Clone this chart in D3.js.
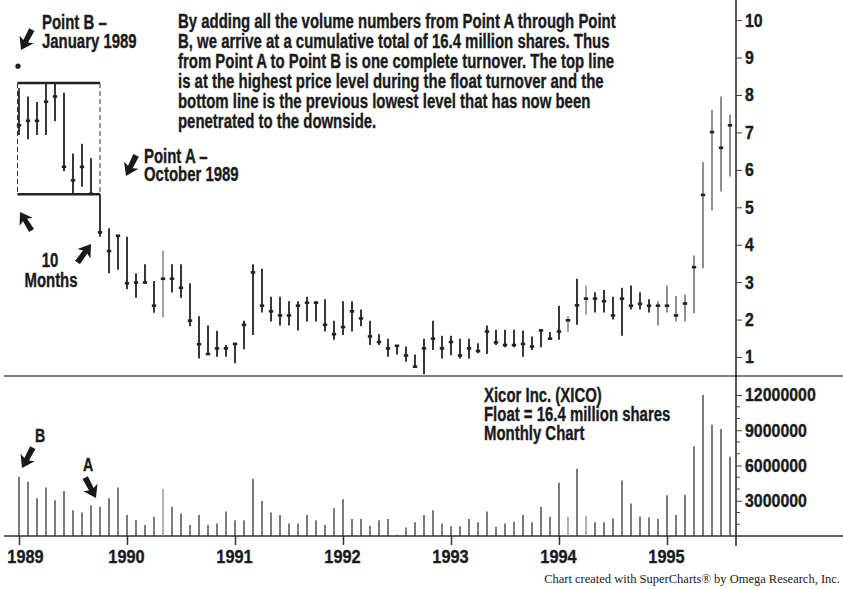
<!doctype html>
<html>
<head>
<style>
  body { margin: 0; background: #fff; }
  text { font-family: "Liberation Sans", Arial, sans-serif; font-weight: bold; fill: #1a1a1a; stroke: #1a1a1a; stroke-width: 0.35px; }
  .credit { font-family: "Liberation Serif", "DejaVu Serif", serif; font-weight: normal; stroke: none; }
</style>
<script src="https://d3js.org/d3.v7.min.js"></script>
</head>
<body>
<svg width="843" height="589"></svg>
<script>
// monthly bars Jan 1989 .. Aug 1995 (index 0 = Jan 1989)
var highs = [8.18,7.96,7.81,8.32,8.32,8.06,6.44,6.70,6.31,5.35,
  4.44,4.24,4.21,3.24,3.48,3.03,3.84,3.48,3.48,2.97,
  2.09,1.84,1.70,1.32,1.37,1.97,3.48,3.36,2.61,2.61,
  2.49,2.49,2.61,2.49,2.54,1.97,2.49,2.49,2.27,1.97,
  1.61,1.49,1.32,1.28,1.07,1.49,1.97,1.57,1.57,1.49,
  1.49,1.37,1.84,1.73,1.73,1.73,1.71,1.55,1.73,1.67,
  2.37,2.09,3.09,2.91,2.73,2.79,2.61,2.85,2.91,2.73,
  2.54,2.49,2.91,2.63,2.67,3.71,6.21,7.60,7.96,7.48];
var lows = [6.93,6.82,6.93,6.93,7.30,5.96,5.35,5.55,5.35,4.21,
  3.24,3.33,2.81,2.58,2.99,2.18,2.06,2.72,2.58,1.82,
  0.96,1.08,1.01,1.01,0.83,1.21,1.59,2.19,1.95,1.84,
  1.84,1.71,1.95,1.95,1.68,1.46,1.59,1.68,1.82,1.32,
  1.32,1.01,1.07,0.87,0.72,0.54,1.19,0.96,1.05,0.96,
  0.96,1.10,1.08,1.32,1.26,1.26,1.01,1.19,1.26,1.46,
  1.46,1.66,1.86,2.13,2.19,2.19,2.00,1.57,2.27,2.27,
  2.19,1.84,2.19,1.95,1.95,2.17,3.37,4.92,5.42,5.82];
var closes = [7.19,7.31,7.31,7.82,7.96,6.08,5.72,6.08,5.36,4.33,
  3.83,4.24,2.97,2.99,2.99,2.37,3.09,3.09,2.85,1.97,
  1.34,1.08,1.23,1.23,1.35,1.86,3.26,2.37,2.22,2.11,
  2.11,2.37,2.45,2.45,1.86,1.61,1.80,2.22,2.03,1.55,
  1.40,1.23,1.30,1.04,0.74,1.23,1.49,1.23,1.40,1.04,
  1.23,1.16,1.68,1.39,1.32,1.32,1.35,1.28,1.71,1.49,
  1.68,1.98,2.38,2.56,2.56,2.49,2.11,2.56,2.37,2.42,
  2.37,2.37,2.37,2.11,2.43,3.40,5.33,7.01,6.59,7.19];
// volume, millions of shares
var volumes = [5.05,4.62,3.21,4.12,3.04,3.83,2.20,2.00,2.62,2.48,
  3.21,4.12,1.78,1.35,0.93,1.63,4.00,2.48,1.92,0.93,
  1.78,0.93,1.07,2.09,1.35,1.35,4.88,2.98,2.00,1.78,
  1.07,1.07,1.78,1.35,0.93,2.37,3.13,1.44,1.44,0.87,
  1.35,1.44,0.10,0.73,1.16,1.78,2.20,1.07,0.82,0.82,
  1.44,1.16,2.09,0.79,1.07,1.21,1.78,1.16,2.48,1.63,
  4.54,1.63,5.72,1.72,1.16,1.16,1.50,4.73,2.76,1.63,
  1.58,1.44,3.47,1.78,3.52,7.63,12.0,9.47,9.10,6.74];
var grayBars = [16, 61, 63];
var yearLabels = ["1989","1990","1991","1992","1993","1994","1995"];
var priceTicks = [1,2,3,4,5,6,7,8,9,10];
var volumeTicks = [3000000, 6000000, 9000000, 12000000];
var boxMonths = [0, 9];      // Point B .. Point A
var markerPrice = 8.77;

var noteLines = [
  "By adding all the volume numbers from Point A through Point",
  "B, we arrive at a cumulative total of 16.4 million shares. Thus",
  "from Point A to Point B is one complete turnover. The top line",
  "is at the highest price level during the float turnover and the",
  "bottom line is the previous lowest level that has now been",
  "penetrated to the downside."
];
var infoLines = ["Xicor Inc. (XICO)", "Float = 16.4 million shares", "Monthly Chart"];

var svg = d3.select("svg");
var axisX = 736;
var ink = "#1a1a1a";

// squeeze the regular bold face so the first note line is as wide as in the print
var probe = svg.append("text").attr("font-size", 19.5).text(noteLines[0]);
var SQ = 438 / probe.node().getComputedTextLength();
probe.remove();
var NSQ = 0.86; // squeeze for axis numbers

var x = d3.scaleLinear().domain([0, 72]).range([19, 667]);
var yP = d3.scaleLinear().domain([1, 8]).range([357, 95]);
var yV = d3.scaleLinear().domain([0, 12000000]).range([536, 395]);

function label(px, py, str, size, anchor) {
  svg.append("g")
     .attr("transform", "translate(" + px + "," + py + ") scale(" + SQ + ",1)")
     .append("text")
     .attr("font-size", size)
     .attr("text-anchor", anchor || "start")
     .text(str);
}

// frame lines
svg.append("line").attr("x1", 4).attr("x2", 843).attr("y1", yP(0.49)).attr("y2", yP(0.49))
   .attr("stroke", "#555").attr("stroke-width", 1.5);
svg.append("line").attr("x1", 4).attr("x2", 843).attr("y1", yV(0)).attr("y2", yV(0))
   .attr("stroke", "#333").attr("stroke-width", 1.5);
svg.append("line").attr("x1", axisX).attr("x2", axisX).attr("y1", 0).attr("y2", 546)
   .attr("stroke", "#222").attr("stroke-width", 1.5);

function styleNumbers(g, size) {
  g.select(".domain").remove();
  g.selectAll("line").attr("stroke", "#444");
  g.selectAll("text").attr("font-size", size).attr("font-family", null).attr("fill", ink);
}

// price axis
var pAxis = svg.append("g").attr("transform", "translate(" + axisX + ",0)")
   .call(d3.axisRight(yP).tickValues(priceTicks).tickSize(6).tickPadding(3).tickFormat(d3.format("d")));
styleNumbers(pAxis, 18.5);
pAxis.selectAll("text").attr("transform", "scale(" + NSQ + ",1)").attr("x", 9 / NSQ);

// volume axis
var vAxis = svg.append("g").attr("transform", "translate(" + axisX + ",0)")
   .call(d3.axisRight(yV).tickValues(volumeTicks).tickSize(6).tickPadding(3).tickFormat(d3.format("d")));
styleNumbers(vAxis, 18.5);
vAxis.selectAll("text").attr("transform", "scale(" + NSQ + ",1)").attr("x", 9 / NSQ);
svg.append("g").selectAll("line")
   .data(d3.range(1000000, 12000001, 1000000).filter(function(d) { return d % 3000000; }))
   .enter().append("line")
   .attr("x1", axisX).attr("x2", axisX + 4)
   .attr("y1", function(d) { return yV(d); }).attr("y2", function(d) { return yV(d); })
   .attr("stroke", "#444");

// time axis
var tAxis = svg.append("g").attr("transform", "translate(0," + yV(0) + ")")
   .call(d3.axisBottom(x).tickValues(d3.range(0, 73, 12)).tickSize(9).tickPadding(5)
      .tickFormat(function(d, i) { return yearLabels[i]; }));
styleNumbers(tAxis, 19);
tAxis.selectAll("line").attr("stroke", "#333").attr("stroke-width", 1.5);
tAxis.selectAll("text")
   .attr("transform", "scale(" + NSQ + ",1)")
   .attr("x", function(d, i) { return (i === 0 ? 6 : -1) / NSQ; });

// price bars
var months = d3.range(highs.length);
function barColor(i) { return grayBars.indexOf(i) >= 0 ? "#999" : (i >= 71 ? "#444" : "#222"); }
svg.append("g").selectAll("line").data(months).enter().append("line")
   .attr("x1", function(i) { return x(i); }).attr("x2", function(i) { return x(i); })
   .attr("y1", function(i) { return yP(highs[i]); }).attr("y2", function(i) { return yP(lows[i]); })
   .attr("stroke", barColor)
   .attr("stroke-width", function(i) { return i >= 71 ? 1.2 : 1.8; });
svg.append("g").selectAll("line").data(months).enter().append("line")
   .attr("x1", function(i) { return x(i) - 2.2; }).attr("x2", function(i) { return x(i) + 2.2; })
   .attr("y1", function(i) { return yP(closes[i]); }).attr("y2", function(i) { return yP(closes[i]); })
   .attr("stroke", "#222").attr("stroke-width", 2.6);

// volume bars
svg.append("g").selectAll("line").data(months).enter().append("line")
   .attr("x1", function(i) { return x(i); }).attr("x2", function(i) { return x(i); })
   .attr("y1", yV(0)).attr("y2", function(i) { return yV(volumes[i] * 1e6); })
   .attr("stroke", function(i) { return grayBars.indexOf(i) >= 0 ? "#888" : "#333"; })
   .attr("stroke-width", 1.3);

// turnover box
var boxTop = d3.max(highs.slice(boxMonths[0], boxMonths[1]));
var boxBot = d3.min(lows.slice(boxMonths[0], boxMonths[1]));
var bx0 = x(boxMonths[0]) - 1.5, bx1 = x(boxMonths[1]);
[boxTop, boxBot].forEach(function(p) {
  svg.append("line").attr("x1", bx0).attr("x2", bx1).attr("y1", yP(p)).attr("y2", yP(p))
     .attr("stroke", "#222").attr("stroke-width", 2.4);
});
[bx0, bx1].forEach(function(bx) {
  svg.append("line").attr("x1", bx).attr("x2", bx).attr("y1", yP(boxTop)).attr("y2", yP(boxBot))
     .attr("stroke", "#333").attr("stroke-width", 1).attr("stroke-dasharray", "5,3");
});
svg.append("circle").attr("cx", x(0) - 1).attr("cy", yP(markerPrice)).attr("r", 2.6).attr("fill", "#222");

// arrows: tip position and direction in degrees
function arrow(tx, ty, angle, s) {
  var pts = [[0,0],[-12,-8],[-10,-2.6],[-23,-3],[-23,3],[-10,2.6],[-12,8]];
  svg.append("path")
     .attr("d", "M" + pts.map(function(p) { return p.join(","); }).join("L") + "Z")
     .attr("transform", "translate(" + tx + "," + ty + ") rotate(" + angle + ") scale(" + (s || 1) + ")")
     .attr("fill", "#1a1a1a");
}
arrow(21, 50, 118);
arrow(126, 176, 116);
arrow(91, 244, -54);
arrow(20, 212, -122, 0.95);
arrow(22, 468, 118);
arrow(96, 498, 62);

// annotations
noteLines.forEach(function(s, i) { label(178, 28.3 + i * 20, s, 19.5); });
label(42, 29.3, "Point B \u2013", 19.5);
label(42, 48.3, "January 1989", 19.5);
label(144, 163.3, "Point A \u2013", 19.5);
label(144, 180.5, "October 1989", 19.5);
label(50, 266.7, "10", 19.5, "middle");
label(51, 286.7, "Months", 19.5, "middle");
infoLines.forEach(function(s, i) { label(484, 401.5 + i * 19.3, s, 19.5); });
label(40, 441.7, "B", 18.5, "middle");
label(88, 470.5, "A", 18.5, "middle");

svg.append("text").attr("class", "credit")
   .attr("x", 840).attr("y", 583).attr("text-anchor", "end").attr("font-size", 12.5)
   .text("Chart created with SuperCharts\u00ae by Omega Research, Inc.");
</script>
</body>
</html>
